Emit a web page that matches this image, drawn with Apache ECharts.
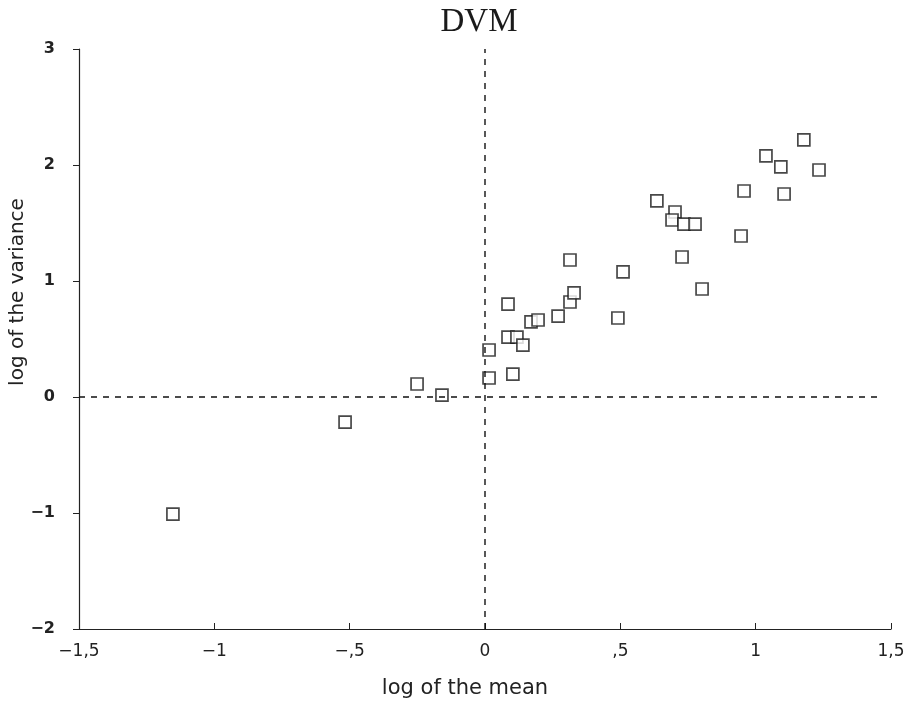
<!DOCTYPE html>
<html>
<head>
<meta charset="utf-8">
<script src="https://cdn.jsdelivr.net/npm/echarts@6/dist/echarts.min.js"></script>
<style>html,body{margin:0;padding:0;background:#fff}#c{width:909px;height:702px}</style>
</head>
<body>
<div id="c"></div>
<script>
// log of the mean
var logMean = [-1.153, -0.517, -0.251, -0.159, 0.015, 0.015, 0.085, 0.085, 0.118, 0.103, 0.140, 0.170, 0.196, 0.270, 0.314, 0.314, 0.329, 0.491, 0.510, 0.635, 0.702, 0.691, 0.735, 0.776, 0.728, 0.802, 0.946, 0.957, 1.038, 1.093, 1.105, 1.178, 1.234];
// log of the variance
var logVar = [-1.01, -0.216, 0.112, 0.017, 0.405, 0.164, 0.80, 0.517, 0.517, 0.198, 0.448, 0.647, 0.664, 0.698, 1.181, 0.819, 0.897, 0.681, 1.078, 1.69, 1.595, 1.526, 1.491, 1.491, 1.207, 0.931, 1.388, 1.776, 2.078, 1.983, 1.75, 2.216, 1.957];
var xTickLabels = {"-1.5": "\u22121,5", "-1": "\u22121", "-0.5": "\u2212,5", "0": "0", "0.5": ",5", "1": "1", "1.5": "1,5"};
var yTickLabels = {"-2": "\u22122", "-1": "\u22121", "0": "0", "1": "1", "2": "2", "3": "3"};
var refH = [[-1.5, 0], [1.45, 0]];
var refV = [[0, -2], [0, 3]];

var pts = logMean.map(function (x, i) { return [x, logVar[i]]; });
var chart = echarts.init(document.getElementById('c'));
var sans = 'DejaVu Sans, Liberation Sans, Arial, sans-serif';
chart.setOption({
  animation: false,
  backgroundColor: '#fff',
  grid: { left: 79, right: 18, top: 49, bottom: 73 },
  xAxis: {
    type: 'value', min: -1.5, max: 1.5, interval: 0.5,
    axisLine: { show: true, onZero: false, lineStyle: { color: '#222', width: 1.2 } },
    axisTick: { show: true, inside: true, length: 6, lineStyle: { color: '#222' } },
    splitLine: { show: false },
    axisLabel: {
      margin: 14, fontFamily: sans, fontSize: 17, color: '#222',
      formatter: function (v) { return xTickLabels[String(v)] || ''; }
    }
  },
  yAxis: {
    type: 'value', min: -2, max: 3, interval: 1,
    axisLine: { show: true, onZero: false, lineStyle: { color: '#222', width: 1.2 } },
    axisTick: { show: true, inside: false, length: 6, lineStyle: { color: '#222' } },
    splitLine: { show: false },
    axisLabel: {
      margin: 24, fontFamily: sans, fontSize: 16, fontWeight: 'bold', color: '#222',
      formatter: function (v) { return yTickLabels[String(v)] || ''; }
    }
  },
  graphic: [
    { type: 'text', x: 479, y: 22, style: { text: 'DVM', font: '33px Liberation Serif, DejaVu Serif, serif', fill: '#1a1a1a', textAlign: 'center', textVerticalAlign: 'middle' } },
    { type: 'text', x: 465, y: 689, style: { text: 'log of the mean', font: '21px DejaVu Sans, Liberation Sans, sans-serif', fill: '#222', textAlign: 'center', textVerticalAlign: 'middle' } },
    { type: 'text', x: 18, y: 292, rotation: Math.PI / 2, style: { text: 'log of the variance', font: '20px DejaVu Sans, Liberation Sans, sans-serif', fill: '#222', textAlign: 'center', textVerticalAlign: 'middle' } }
  ],
  series: [
    {
      type: 'line', data: refH, symbol: 'none', silent: true,
      lineStyle: { color: '#111', width: 1.4, type: [6, 6] }
    },
    {
      type: 'line', data: refV, symbol: 'none', silent: true,
      lineStyle: { color: '#111', width: 1.4, type: [6, 6] }
    },
    {
      type: 'scatter', data: pts, symbol: 'rect', symbolSize: 12,
      itemStyle: { color: '#fff', borderColor: '#1a1a1a', borderWidth: 1.7 }
    }
  ]
});
</script>
</body>
</html>
